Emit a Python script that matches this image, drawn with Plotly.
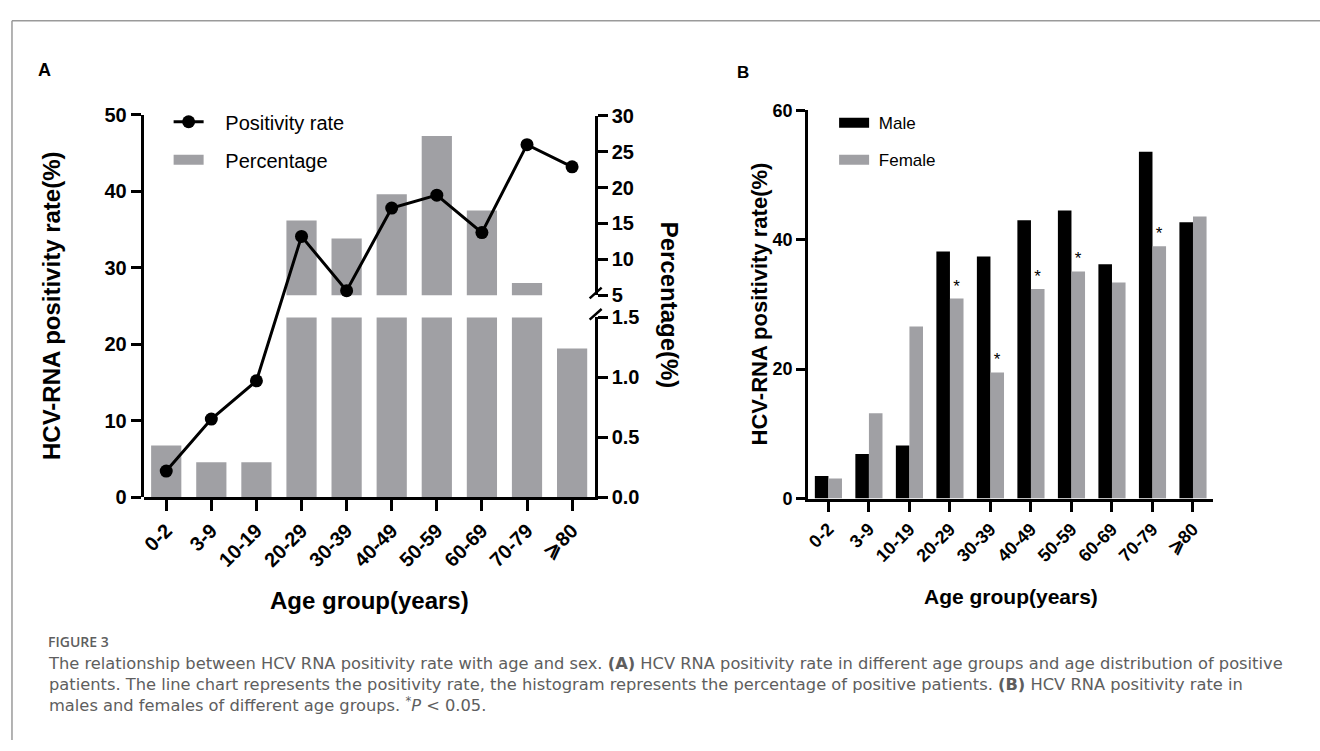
import plotly.graph_objects as go

W, H = 1320, 751


def px(x):
    return x / W


def py(y):
    return 1 - y / H


# ---------------- data ----------------
age_groups = ["0-2", "3-9", "10-19", "20-29", "30-39", "40-49", "50-59", "60-69", "70-79", "⩾80"]
positivity_rate = [3.4, 10.2, 15.2, 34.1, 27.0, 37.8, 39.5, 34.6, 46.1, 43.2]
percentage = [0.43, 0.29, 0.29, 15.4, 12.9, 19.05, 27.2, 16.8, 6.7, 1.24]
male_rate = [3.5, 6.9, 8.2, 38.2, 37.4, 43.0, 44.5, 36.2, 53.6, 42.7]
female_rate = [3.1, 13.2, 26.6, 30.9, 19.5, 32.4, 35.1, 33.4, 39.0, 43.6]
female_sig = ["", "", "", "*", "*", "*", "*", "", "*", ""]

left_ticks_a = [0, 10, 20, 30, 40, 50]
right_low_ticks = [0.0, 0.5, 1.0, 1.5]
right_high_ticks = [5, 10, 15, 20, 25, 30]
left_ticks_b = [0, 20, 40, 60]

GRAY = "#A0A0A4"
BLACK = "#000000"
FONT = "Liberation Sans, Arial, sans-serif"
NB = "\u00a0"

fig = go.Figure()

# ---------------- Panel A ----------------
fig.add_trace(go.Bar(x=age_groups, y=percentage, xaxis="x", yaxis="y",
                     marker=dict(color=GRAY, line=dict(width=0)), showlegend=False,
                     name="Percentage"))
fig.add_trace(go.Bar(x=age_groups, y=percentage, xaxis="x", yaxis="y2",
                     marker=dict(color=GRAY, line=dict(width=0)), showlegend=False,
                     name="Percentage"))
fig.add_trace(go.Scatter(x=age_groups, y=positivity_rate, xaxis="x", yaxis="y3",
                         mode="lines+markers", name=NB * 3 + "Positivity rate",
                         line=dict(color=BLACK, width=3),
                         marker=dict(color=BLACK, size=13),
                         legend="legend", legendgroup="a1"))
fig.add_trace(go.Scatter(x=[None], y=[None], xaxis="x", yaxis="y3",
                         mode="lines", name=NB * 3 + "Percentage",
                         line=dict(color=GRAY, width=11),
                         legend="legend", legendgroup="a2"))

# ---------------- Panel B ----------------
fig.add_trace(go.Bar(x=age_groups, y=male_rate, xaxis="x2", yaxis="y4", name="Male",
                     marker=dict(color=BLACK, line=dict(width=0)), showlegend=False))
fig.add_trace(go.Bar(x=age_groups, y=female_rate, xaxis="x2", yaxis="y4", name="Female",
                     marker=dict(color=GRAY, line=dict(width=0)), showlegend=False,
                     text=female_sig, textposition="outside", cliponaxis=False,
                     constraintext="none",
                     textfont=dict(family=FONT, size=17, color=BLACK)))
fig.add_trace(go.Scatter(x=[None], y=[None], xaxis="x2", yaxis="y4",
                         mode="lines", name=NB + "Male",
                         line=dict(color=BLACK, width=10),
                         legend="legend2", legendgroup="b1"))
fig.add_trace(go.Scatter(x=[None], y=[None], xaxis="x2", yaxis="y4",
                         mode="lines", name=NB + "Female",
                         line=dict(color=GRAY, width=10),
                         legend="legend2", legendgroup="b2"))

axis_common = dict(showline=True, linecolor=BLACK, linewidth=3, ticks="outside",
                   tickwidth=3, tickcolor=BLACK, showgrid=False, zeroline=False)

tickfont_a = dict(family=FONT, size=20, color=BLACK, weight="bold")
tickfont_b = dict(family=FONT, size=18, color=BLACK, weight="bold")

fig.update_layout(
    width=W, height=H,
    margin=dict(l=0, r=0, t=0, b=0),
    paper_bgcolor="white", plot_bgcolor="rgba(0,0,0,0)",
    barmode="group", bargap=0.33, bargroupgap=0,
    xaxis=dict(domain=[px(141), px(593)], anchor="y", type="category",
               range=[-0.5, 9.5], ticklen=11, tickangle=-45, tickfont=tickfont_a,
               **axis_common),
    yaxis=dict(domain=[py(500.7), py(315.7)], anchor="x", side="right",
               range=[0, 1.5], tickvals=right_low_ticks,
               ticktext=[f"{v:.1f}" for v in right_low_ticks],
               ticklen=10, tickfont=tickfont_a, **axis_common),
    yaxis2=dict(domain=[py(292.7), py(108)], anchor="x", side="right",
                range=[5, 30], tickvals=right_high_ticks,
                ticklen=10, tickfont=tickfont_a, **axis_common),
    yaxis3=dict(domain=[py(500.7), py(107)], anchor="x", side="left",
                range=[0, 50], tickvals=left_ticks_a,
                ticklen=10, tickfont=tickfont_a, **axis_common),
    xaxis2=dict(domain=[px(807), px(1213)], anchor="y4", type="category",
                range=[-0.5, 9.5], ticklen=10, tickangle=-45, tickfont=tickfont_b,
                **axis_common),
    yaxis4=dict(domain=[py(502.3), py(102.3)], anchor="x2", side="left",
                range=[0, 60], tickvals=left_ticks_b,
                ticklen=9, tickfont=tickfont_b, **axis_common),
    legend=dict(x=px(166), y=py(94), xanchor="left", yanchor="top",
                bgcolor="rgba(0,0,0,0)", borderwidth=0, tracegroupgap=9,
                itemwidth=30, font=dict(family=FONT, size=20, color=BLACK)),
    legend2=dict(x=px(833), y=py(97), xanchor="left", yanchor="top",
                 bgcolor="rgba(0,0,0,0)", borderwidth=0, tracegroupgap=12,
                 itemwidth=30, font=dict(family=FONT, size=17, color=BLACK)),
)

annotations = []


def ann(text, x, y, size, bold=True, angle=0, xanchor="center", yanchor="middle",
        color=BLACK, family=FONT, weight=None, align="center"):
    annotations.append(dict(
        text=text, x=px(x), y=py(y), xref="paper", yref="paper", showarrow=False,
        textangle=angle, xanchor=xanchor, yanchor=yanchor, align=align,
        font=dict(family=family, size=size, color=color,
                  weight=weight if weight is not None else ("bold" if bold else "normal"))))


ann("A", 42, 61, 18)
ann("B", 742, 63, 17)
ann("HCV-RNA positivity rate(%)", 48, 304, 24, angle=-90)
ann("Percentage(%)", 668, 303, 24, angle=90)
ann("Age group(years)", 367, 607, 24)
ann("HCV-RNA positivity rate(%)", 758, 302, 22, angle=-90)
ann("Age group(years)", 1010, 603, 21)

CAP_COLOR = "#5e5e5e"
ann("FIGURE 3", 43, 650, 14, color=CAP_COLOR, family="Open Sans, Noto Sans, sans-serif",
    xanchor="left", weight=600)
caption = ("The relationship between HCV RNA positivity rate with age and sex. <b>(A)</b> HCV RNA "
           "positivity rate in different age groups and age distribution of positive<br>"
           "patients. The line chart represents the positivity rate, the histogram represents the "
           "percentage of positive patients. <b>(B)</b> HCV RNA positivity rate in<br>"
           "males and females of different age groups. <sup>*</sup><i>P</i> &lt; 0.05.")
ann(caption, 43, 694, 16.3, bold=False, color=CAP_COLOR,
    family="DejaVu Sans, Verdana, sans-serif", xanchor="left", align="left")

fig.update_layout(annotations=annotations)

# frame lines and axis-break marks (decorations)
shapes = [
    dict(type="line", xref="paper", yref="paper", x0=px(9), x1=px(1320), y0=py(10), y1=py(10),
         line=dict(color="#9a9a9a", width=1.5)),
    dict(type="line", xref="paper", yref="paper", x0=px(9), x1=px(9), y0=py(10), y1=py(751),
         line=dict(color="#9a9a9a", width=1.5)),
    dict(type="line", xref="paper", yref="paper", x0=px(588), x1=px(600), y0=py(296), y1=py(285),
         line=dict(color=BLACK, width=2.5)),
    dict(type="line", xref="paper", yref="paper", x0=px(588), x1=px(600), y0=py(318), y1=py(307),
         line=dict(color=BLACK, width=2.5)),
]
fig.update_layout(shapes=shapes)

fig.write_html("out.html", config={"displayModeBar": False},
               post_script="document.body.style.margin='0';document.body.style.overflow='hidden';")
